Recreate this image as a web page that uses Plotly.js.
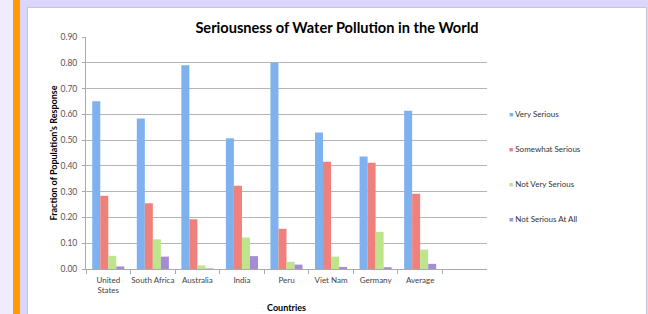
<!DOCTYPE html>
<html>
<head>
<meta charset="utf-8">
<script src="https://cdn.plot.ly/plotly-3.0.1.min.js"></script>
<style>
  html, body { margin: 0; padding: 0; width: 648px; height: 314px; overflow: hidden; background: #f0ecfe; }
  #orange { position: absolute; left: 13px; top: 0; width: 7px; height: 314px; background: #ff9a00; }
  #lav { position: absolute; left: 20px; top: 0; width: 628px; height: 314px; background: #ddd6fb; }
  #frame { position: absolute; left: 27px; top: 7px; width: 620px; height: 307px; background: #c8c4d4; }
  #chart { position: absolute; left: 28px; top: 8px; width: 618px; height: 306px; background: #fff; }
</style>
</head>
<body>
<div id="orange"></div>
<div id="lav"></div>
<div id="frame"></div>
<div id="chart"></div>
<script>
const countries = ["United<br>States", "South Africa", "Australia", "India", "Peru", "Viet Nam", "Germany", "Average"];
const verySerious = [0.651, 0.584, 0.790, 0.507, 0.800, 0.530, 0.436, 0.614];
const somewhatSerious = [0.284, 0.255, 0.193, 0.323, 0.156, 0.416, 0.412, 0.292];
const notVerySerious = [0.051, 0.115, 0.014, 0.122, 0.028, 0.048, 0.144, 0.075];
const notSeriousAtAll = [0.010, 0.048, 0.002, 0.050, 0.017, 0.008, 0.007, 0.020];
const seriesNames = ["Very Serious", "Somewhat Serious", "Not Very Serious", "Not Serious At All"];
const yTickVals = [0, 0.1, 0.2, 0.3, 0.4, 0.5, 0.6, 0.7, 0.8, 0.9];
const yTickText = ["0.00", "0.10", "0.20", "0.30", "0.40", "0.50", "0.60", "0.70", "0.80", "0.90"];

const colors = ["#7fb1ee", "#ee817b", "#bee48c", "#a58dd6"];
const allValues = [verySerious, somewhatSerious, notVerySerious, notSeriousAtAll];

const traces = allValues.map((vals, i) => ({
  type: "bar",
  name: seriesNames[i],
  x: countries,
  y: vals,
  marker: { color: colors[i], line: { width: 0 } },
  showlegend: false,
  hoverinfo: "skip"
}));

const font = "Lato, 'Open Sans', sans-serif";

// legend drawn as annotations (small square key + label), Excel style
const legendAnnotations = seriesNames.map((nm, i) => ({
  xref: "paper", yref: "paper",
  x: 1.049, xanchor: "left",
  y: 0.668 - i * 0.1509, yanchor: "middle",
  showarrow: false,
  align: "left",
  text: '<span style="color:' + colors[i] + ';font-size:7px">■</span> ' + nm,
  font: { family: font, size: 8, color: "#333" }
}));

const layout = {
  width: 618,
  height: 306,
  margin: { l: 58, r: 159, t: 29, b: 45 },
  paper_bgcolor: "#ffffff",
  plot_bgcolor: "#ffffff",
  barmode: "group",
  bargap: 0.28,
  bargroupgap: 0,
  showlegend: false,
  annotations: legendAnnotations,
  title: {
    text: "<b>Seriousness of Water Pollution in the World</b>",
    font: { family: font, size: 14.6, color: "#000" },
    x: 0.5, xanchor: "center", xref: "container",
    y: 1 - 20 / 306, yanchor: "middle", yref: "container"
  },
  xaxis: {
    type: "category",
    range: [-0.5, 8.5],
    tickson: "boundaries",
    tickangle: 0,
    ticks: "outside",
    ticklen: 4,
    tickcolor: "#aaa",
    ticklabelstandoff: 3,
    showline: true,
    linecolor: "#aaa",
    linewidth: 1,
    showgrid: false,
    tickfont: { family: font, size: 8, color: "#444" },
    title: {
      text: "<b>Countries</b>",
      font: { family: font, size: 9, color: "#000" },
      standoff: 10
    },
    fixedrange: true
  },
  yaxis: {
    range: [0, 0.9],
    tickvals: yTickVals,
    ticktext: yTickText,
    ticks: "outside",
    ticklen: 3,
    tickcolor: "#aaa",
    ticklabelstandoff: 3,
    showline: true,
    linecolor: "#aaa",
    showgrid: true,
    gridcolor: "#b5b5b5",
    gridwidth: 1,
    zeroline: false,
    tickfont: { family: font, size: 8.5, color: "#555" },
    title: {
      text: "<b>Fraction of Population's Response</b>",
      font: { family: font, size: 9, color: "#000" },
      standoff: 1
    },
    fixedrange: true
  }
};

Plotly.newPlot("chart", traces, layout, { displayModeBar: false, staticPlot: true });
</script>
</body>
</html>
